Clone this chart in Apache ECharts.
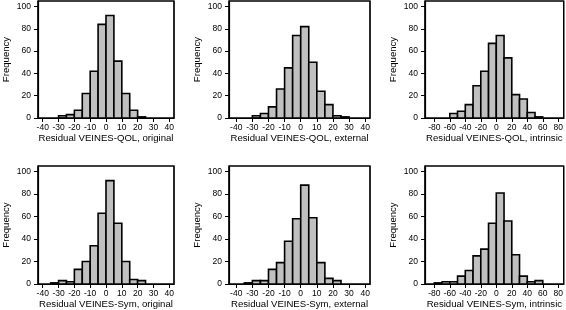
<!DOCTYPE html>
<html>
<head>
<meta charset="utf-8">
<script src="https://cdn.jsdelivr.net/npm/echarts@6/dist/echarts.min.js"></script>
<style>
  html, body { margin: 0; padding: 0; background: #fff; }
  #chart { width: 566px; height: 310px; }
</style>
</head>
<body>
<div id="chart"></div>
<script>
// histogram data: lower bin edges + counts
const qolOriginalLow = [-30, -25, -20, -15, -10, -5, 0, 5, 10, 15, 20]
const qolOriginalCount = [2, 3, 7, 22, 42, 84, 92, 51, 22, 7, 1]
const qolExternalLow = [-30, -25, -20, -15, -10, -5, 0, 5, 10, 15, 20, 25]
const qolExternalCount = [2, 4, 10, 26, 45, 74, 82, 50, 24, 12, 2, 1]
const qolIntrinsicLow = [-60, -50, -40, -30, -20, -10, 0, 10, 20, 30, 40, 50]
const qolIntrinsicCount = [4, 6, 12, 29, 42, 67, 74, 54, 21, 17, 5, 1]
const symOriginalLow = [-35, -30, -25, -20, -15, -10, -5, 0, 5, 10, 15, 20]
const symOriginalCount = [1, 3, 2, 13, 20, 34, 63, 92, 54, 20, 4, 3]
const symExternalLow = [-35, -30, -25, -20, -15, -10, -5, 0, 5, 10, 15, 20]
const symExternalCount = [1, 3, 3, 13, 19, 38, 58, 88, 59, 19, 5, 3]
const symIntrinsicLow = [-80, -70, -60, -50, -40, -30, -20, -10, 0, 10, 20, 30, 40, 50]
const symIntrinsicCount = [1, 2, 2, 7, 12, 25, 31, 54, 81, 56, 26, 7, 2, 3]

// tick labels
const freqTicks = [0, 20, 40, 60, 80, 100]
const narrowTicks = [-40, -30, -20, -10, 0, 10, 20, 30, 40]
const wideTicks = [-80, -60, -40, -20, 0, 20, 40, 60, 80]

const titles = [
  'Residual VEINES-QOL, original',
  'Residual VEINES-QOL, external',
  'Residual VEINES-QOL, intrinsic',
  'Residual VEINES-Sym, original',
  'Residual VEINES-Sym, external',
  'Residual VEINES-Sym, intrinsic'
]

const FONT = 'Liberation Sans, Arial, Helvetica, sans-serif'

// layout of the six boxes
const cols = [
  { left: 37, width: 137, min: -43, max: 43 },
  { left: 229, width: 141, min: -44.5, max: 43 },
  { left: 425, width: 140, min: -92, max: 87 }
]
const rows = [
  { top: 1, height: 117 },
  { top: 166, height: 118 }
]

const panels = [
  { low: qolOriginalLow, count: qolOriginalCount, width: 5, ticks: narrowTicks },
  { low: qolExternalLow, count: qolExternalCount, width: 5, ticks: narrowTicks },
  { low: qolIntrinsicLow, count: qolIntrinsicCount, width: 10, ticks: wideTicks },
  { low: symOriginalLow, count: symOriginalCount, width: 5, ticks: narrowTicks },
  { low: symExternalLow, count: symExternalCount, width: 5, ticks: narrowTicks },
  { low: symIntrinsicLow, count: symIntrinsicCount, width: 10, ticks: wideTicks }
]

const grid = [], xAxis = [], yAxis = [], series = []

panels.forEach((p, i) => {
  const c = cols[i % 3]
  const r = rows[Math.floor(i / 3)]
  grid.push({
    left: c.left, width: c.width, top: r.top, height: r.height,
    show: true, borderColor: '#000', borderWidth: 1.2
  })
  xAxis.push({
    gridIndex: i,
    type: 'value',
    min: c.min,
    max: c.max,
    name: titles[i],
    nameLocation: 'middle',
    nameGap: 14,
    nameTextStyle: { fontFamily: FONT, fontSize: 9.6, color: '#000' },
    axisLine: { show: true, onZero: false, lineStyle: { color: '#000', width: 1.2 } },
    axisTick: { show: true, length: 4, lineStyle: { color: '#000' }, customValues: p.ticks },
    axisLabel: { fontFamily: FONT, fontSize: 8.5, color: '#000', margin: 5, customValues: p.ticks },
    splitLine: { show: false }
  })
  yAxis.push({
    gridIndex: i,
    type: 'value',
    min: 0,
    max: 105,
    name: 'Frequency',
    nameLocation: 'middle',
    nameRotate: 90,
    nameGap: 27,
    nameTextStyle: { fontFamily: FONT, fontSize: 9.6, color: '#000' },
    axisLine: { show: true, onZero: false, lineStyle: { color: '#000', width: 1.2 } },
    axisTick: { show: true, length: 4, lineStyle: { color: '#000' }, customValues: freqTicks },
    axisLabel: { fontFamily: FONT, fontSize: 8.5, color: '#000', margin: 7, customValues: freqTicks },
    splitLine: { show: false }
  })
  // histogram bars, plus the frame of the plot area with the first bin
  series.push({
    type: 'custom',
    xAxisIndex: i,
    yAxisIndex: i,
    clip: false,
    encode: { x: [0, 1], y: 2 },
    data: p.low.map((lo, k) => [lo, lo + p.width, p.count[k]]),
    renderItem: (params, api) => {
      const a = api.coord([api.value(0), api.value(2)])
      const b = api.coord([api.value(1), 0])
      const bar = {
        type: 'rect',
        shape: { x: a[0], y: a[1], width: b[0] - a[0], height: b[1] - a[1] },
        style: { fill: '#c0c0c0', stroke: '#000', lineWidth: 1.6 }
      }
      if (params.dataIndex !== 0) return bar
      const cs = params.coordSys
      return {
        type: 'group',
        children: [
          bar,
          {
            type: 'rect',
            shape: { x: cs.x, y: cs.y, width: cs.width, height: cs.height },
            style: { fill: 'none', stroke: '#000', lineWidth: 1.2 }
          }
        ]
      }
    }
  })
})

const chart = echarts.init(document.getElementById('chart'))
chart.setOption({
  animation: false,
  backgroundColor: '#fff',
  grid,
  xAxis,
  yAxis,
  series
})
</script>
</body>
</html>
